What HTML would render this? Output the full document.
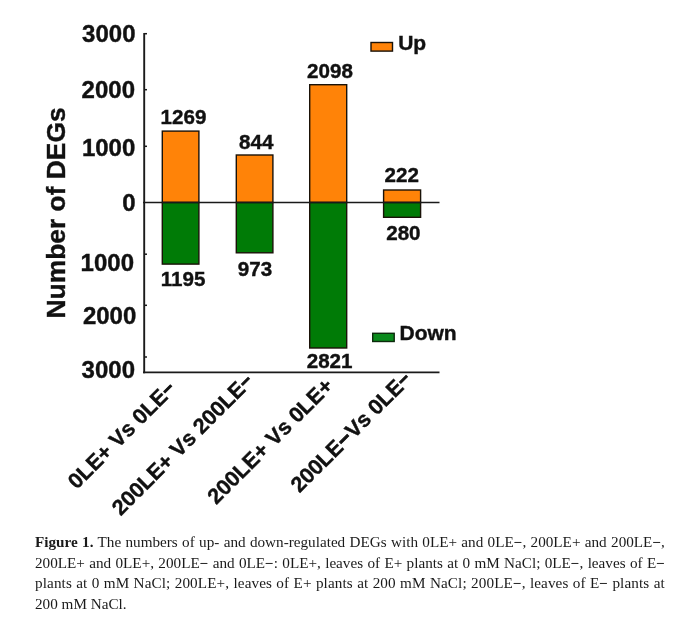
<!DOCTYPE html>
<html>
<head>
<meta charset="utf-8">
<style>
html,body{margin:0;padding:0;background:#fff;}
body{width:700px;height:617px;position:relative;overflow:hidden;font-family:"Liberation Sans",sans-serif;}
svg{position:absolute;left:0;top:0;filter:blur(0.35px);}
svg text{font-family:"Liberation Sans",sans-serif;font-weight:bold;fill:#111;stroke:#111;stroke-width:0.4px;}
.cap{position:absolute;left:34.5px;top:533.1px;width:580.5px;transform-origin:0 0;transform:scaleX(1.085);font-family:"Liberation Serif",serif;font-size:14px;line-height:20.7px;color:#1a1a1a;filter:blur(0.3px);}
.cap div{text-align:justify;text-align-last:justify;white-space:nowrap;height:20.7px;}
.cap div.last{text-align:left;text-align-last:left;}
</style>
</head>
<body>
<svg width="700" height="617" viewBox="0 0 700 617">
  <!-- bars -->
  <g stroke="#1a1208" stroke-width="1.4">
    <rect x="162.3" y="131.1" width="36.6" height="71.4" fill="#FF8308"/>
    <rect x="162.3" y="202.5" width="36.6" height="61.6" fill="#007B06"/>
    <rect x="236.3" y="155.0" width="36.6" height="47.5" fill="#FF8308"/>
    <rect x="236.3" y="202.5" width="36.6" height="50.3" fill="#007B06"/>
    <rect x="309.7" y="84.7" width="37.0" height="117.8" fill="#FF8308"/>
    <rect x="309.7" y="202.5" width="37.0" height="145.5" fill="#007B06"/>
    <rect x="383.6" y="190.0" width="37" height="12.5" fill="#FF8308"/>
    <rect x="383.6" y="202.5" width="37" height="14.8" fill="#007B06"/>
  </g>
  <!-- axes -->
  <g stroke="#1a1a1a" fill="none">
    <line x1="144.2" y1="33" x2="144.2" y2="373.2" stroke-width="1.9"/>
    <line x1="143" y1="372.4" x2="439.5" y2="372.4" stroke-width="1.8"/>
    <line x1="143" y1="202.5" x2="439.5" y2="202.5" stroke-width="1.3"/>
    <g stroke-width="1.5">
      <line x1="144" y1="33.7" x2="147" y2="33.7"/>
      <line x1="144" y1="89.7" x2="147" y2="89.7"/>
      <line x1="144" y1="146.3" x2="147" y2="146.3"/>
      <line x1="144" y1="254.2" x2="147" y2="254.2"/>
      <line x1="144" y1="305.3" x2="147" y2="305.3"/>
      <line x1="144" y1="357" x2="147" y2="357"/>
    </g>
  </g>
  <!-- y tick labels -->
  <g font-size="24" text-anchor="end">
    <text x="135.5" y="42.2">3000</text>
    <text x="135" y="98">2000</text>
    <text x="135.3" y="155.5">1000</text>
    <text x="135.5" y="210.6">0</text>
    <text x="134" y="271">1000</text>
    <text x="136.3" y="324">2000</text>
    <text x="135" y="378">3000</text>
  </g>
  <!-- y title -->
  <text font-size="26.4" text-anchor="middle" transform="translate(65.4,212.9) rotate(-90)">Number of DEGs</text>
  <!-- value labels -->
  <g font-size="20.6" text-anchor="middle">
    <text x="183.5" y="124">1269</text>
    <text x="256.2" y="148.8">844</text>
    <text x="330" y="78">2098</text>
    <text x="401.8" y="181.7">222</text>
    <text x="183" y="286.4">1195</text>
    <text x="255" y="276.2">973</text>
    <text x="329.6" y="368">2821</text>
    <text x="403.4" y="240.2">280</text>
  </g>
  <!-- legend -->
  <rect x="371" y="42.5" width="21.5" height="8.6" fill="#FF8308" stroke="#1a1208" stroke-width="1.4"/>
  <text x="398.2" y="49.8" font-size="21">Up</text>
  <rect x="372.7" y="333.3" width="21.5" height="8.2" fill="#0A8A1C" stroke="#0c2a0c" stroke-width="1.4"/>
  <text x="399.5" y="340" font-size="21">Down</text>
  <!-- x labels -->
  <g font-size="21.6" text-anchor="end">
    <text transform="translate(176.6,390.2) rotate(-45)">0LE+ Vs 0LE<tspan font-size="18.5" stroke-width="1" dy="-1.1">−</tspan></text>
    <text transform="translate(254.4,382.7) rotate(-45)">200LE+ Vs 200LE<tspan font-size="18.5" stroke-width="1" dy="-1.1">−</tspan></text>
    <text transform="translate(334.3,387.2) rotate(-45)">200LE+ Vs 0LE+</text>
    <text transform="translate(412.5,380.7) rotate(-45)">200LE<tspan stroke-width="0.9" dx="0.3">−</tspan><tspan dx="0.3">Vs 0LE</tspan><tspan font-size="18.5" stroke-width="1" dy="-1.1">−</tspan></text>
  </g>
</svg>
<div class="cap">
<div><b>Figure 1.</b> The numbers of up- and down-regulated DEGs with 0LE+ and 0LE<b>−</b>, 200LE+ and 200LE<b>−</b>,</div>
<div>200LE+ and 0LE+, 200LE<b>−</b> and 0LE<b>−</b>: 0LE+, leaves of E+ plants at 0 mM NaCl; 0LE<b>−</b>, leaves of E<b>−</b></div>
<div style="letter-spacing:0.1px">plants at 0 mM NaCl; 200LE+, leaves of E+ plants at 200 mM NaCl; 200LE<b>−</b>, leaves of E<b>−</b> plants at</div>
<div class="last">200 mM NaCl.</div>
</div>
</body>
</html>
